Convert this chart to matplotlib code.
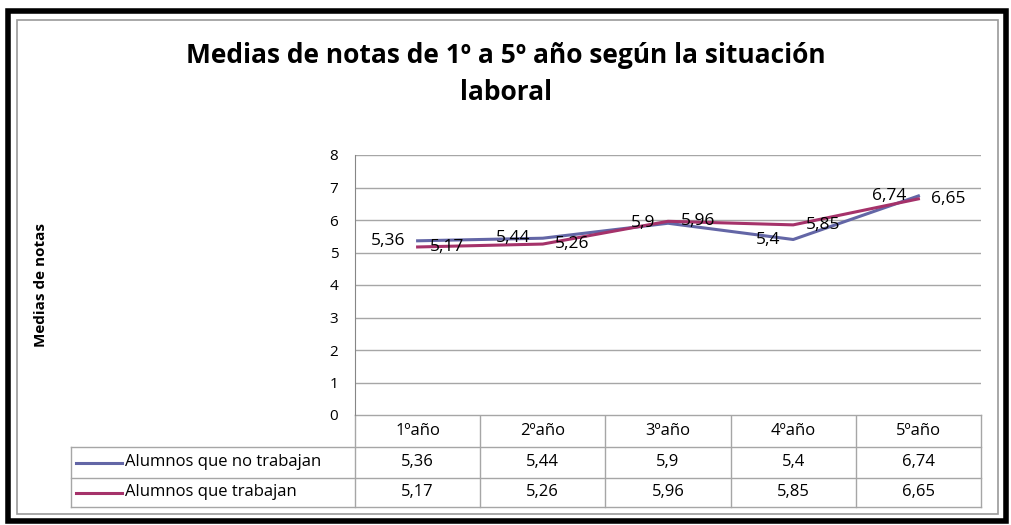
import matplotlib
matplotlib.use("Agg")
import matplotlib.pyplot as plt
from matplotlib.patches import Rectangle

# data
years = ["1ºaño", "2ºaño", "3ºaño", "4ºaño", "5ºaño"]
no_trabajan = [5.36, 5.44, 5.9, 5.4, 6.74]
trabajan = [5.17, 5.26, 5.96, 5.85, 6.65]
series_names = ["Alumnos que no trabajan", "Alumnos que trabajan"]
colors = ["#6366A6", "#A5326A"]

W, H = 1011, 525
plt.rcParams['font.family'] = ['Open Sans', 'DejaVu Sans']

fig = plt.figure(figsize=(W / 100, H / 100), dpi=100)

# plot area in pixels
left, right, top, bottom = 355, 981, 155, 415

def fx(px):
    return px / W

def fy(py):
    return 1 - py / H

ax = fig.add_axes([fx(left), fy(bottom), fx(right - left), (bottom - top) / H])
xs = range(len(years))
ax.plot(xs, no_trabajan, color=colors[0], lw=2.2, zorder=3)
ax.plot(xs, trabajan, color=colors[1], lw=2.2, zorder=3)
ax.set_xlim(-0.5, len(years) - 0.5)
ax.set_ylim(0, 8)
ax.set_yticks(range(0, 9))
ax.set_xticks([])
ax.grid(axis='y', color='#A6A6A6', lw=1)
ax.set_axisbelow(True)
for s in ['top', 'right', 'bottom']:
    ax.spines[s].set_visible(False)
ax.spines['left'].set_color('#868686')
ax.tick_params(axis='y', length=0, pad=12, labelsize=11)

def fmt(v):
    return f"{v:g}".replace('.', ',')

# data labels: first series to the left, second to the right
for x, v in zip(xs, no_trabajan):
    ax.annotate(fmt(v), (x, v), xytext=(-9, 0), textcoords='offset points',
                ha='right', va='center', fontsize=12.5, zorder=4)
for x, v in zip(xs, trabajan):
    ax.annotate(fmt(v), (x, v), xytext=(9, 0), textcoords='offset points',
                ha='left', va='center', fontsize=12.5, zorder=4)

ax.set_ylabel("Medias de notas", fontsize=11, fontweight='bold', labelpad=0)
ax.yaxis.set_label_coords((48 - left) / (right - left), 0.5)

# overlay in pixel coordinates for frames and the data table
ov = fig.add_axes([0, 0, 1, 1], zorder=-1)
ov.set_xlim(0, W)
ov.set_ylim(H, 0)
ov.axis('off')
ov.add_patch(Rectangle((7.5, 10.5), 998, 510, fill=False, ec='black', lw=4))
ov.add_patch(Rectangle((17, 20), 981, 494, fill=False, ec='#9A9A9A', lw=1.2))

# table
tcol = '#A6A6A6'
leg_left = 71
rows = [415, 447, 478, 507]
cw = (right - left) / len(years)
ov.plot([left, right], [rows[0], rows[0]], color=tcol, lw=1)
for r in rows[1:]:
    ov.plot([leg_left, right], [r, r], color=tcol, lw=1)
ov.plot([leg_left, leg_left], [rows[1], rows[3]], color=tcol, lw=1)
for i in range(len(years) + 1):
    xc = left + i * cw
    ov.plot([xc, xc], [rows[0], rows[3]], color=tcol, lw=1)

for i, yl in enumerate(years):
    xc = left + (i + 0.5) * cw
    ov.text(xc, (rows[0] + rows[1]) / 2, yl, ha='center', va='center', fontsize=12)
    ov.text(xc, (rows[1] + rows[2]) / 2, fmt(no_trabajan[i]), ha='center', va='center', fontsize=12)
    ov.text(xc, (rows[2] + rows[3]) / 2, fmt(trabajan[i]), ha='center', va='center', fontsize=12)

for k, name in enumerate(series_names):
    yc = (rows[k + 1] + rows[k + 2]) / 2
    ov.plot([76, 122], [yc, yc], color=colors[k], lw=2.2)
    ov.text(125, yc, name, ha='left', va='center', fontsize=12)

fig.text(0.5, fy(74), "Medias de notas de 1º a 5º año según la situación\nlaboral",
         ha='center', va='center', fontsize=19, fontweight='bold', linespacing=1.5)

fig.savefig("out.png", dpi=100)
